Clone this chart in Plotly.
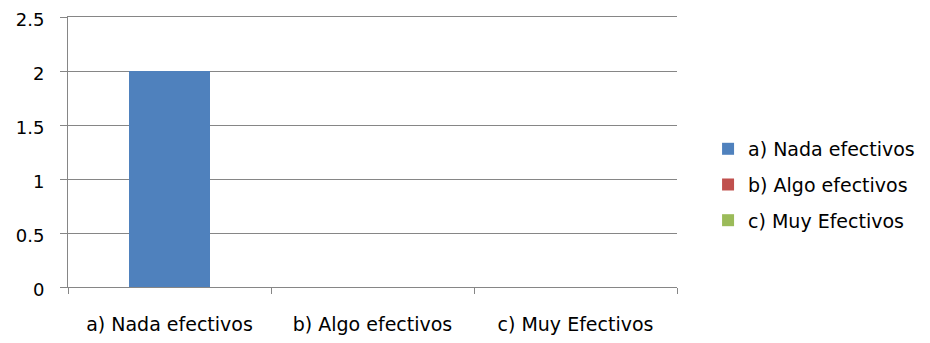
import plotly.graph_objects as go

categories = ["a) Nada efectivos", "b) Algo efectivos", "c) Muy Efectivos"]
series_names = ["a) Nada efectivos", "b) Algo efectivos", "c) Muy Efectivos"]
values_a = [2, 0, 0]
values_b = [0, 0, 0]
values_c = [0, 0, 0]
y_ticks = [0, 0.5, 1, 1.5, 2, 2.5]
y_tick_labels = ["0", "0.5", "1", "1.5", "2", "2.5"]

colors = ["#4F81BD", "#C0504D", "#9BBB59"]
font_family = "DejaVu Sans"
grid = "#868686"

fig = go.Figure()
for i, (name, vals) in enumerate(zip(series_names, [values_a, values_b, values_c])):
    fig.add_trace(go.Bar(
        x=categories, y=vals, name=name, marker_color=colors[i],
        marker_line_width=0, width=0.4, legendgroup=f"g{i}",
    ))

# page body adds an 8px offset, so the figure is 8px smaller with 8px smaller margins
fig.update_layout(
    width=922, height=335,
    barmode="stack",
    margin=dict(l=60, r=253, t=9, b=56, autoexpand=False),
    plot_bgcolor="white", paper_bgcolor="white",
    font=dict(family=font_family, size=18, color="#000000"),
    showlegend=True,
    legend=dict(
        x=1.051, xanchor="left", y=0.378, yanchor="middle",
        traceorder="grouped", tracegroupgap=8,
        font=dict(family=font_family, size=19),
        bgcolor="rgba(0,0,0,0)",
    ),
    xaxis=dict(
        type="category", showline=True, linecolor=grid, linewidth=1,
        mirror=True,
        ticks="outside", tickson="boundaries", ticklen=6, tickcolor=grid,
        showgrid=False, ticklabelstandoff=20, automargin=False,
        tickfont=dict(family=font_family, size=19),
    ),
    yaxis=dict(
        range=[0, 2.5], tickvals=y_ticks, ticktext=y_tick_labels,
        showgrid=True, gridcolor=grid, gridwidth=1,
        showline=True, linecolor=grid, linewidth=1,
        ticks="outside", ticklen=7, tickcolor=grid,
        zeroline=False, ticklabelstandoff=12, ticklabelshift=3,
        automargin=False, ticklabeloverflow="allow",
        tickfont=dict(family=font_family, size=18),
    ),
)

fig.write_html("out.html")
